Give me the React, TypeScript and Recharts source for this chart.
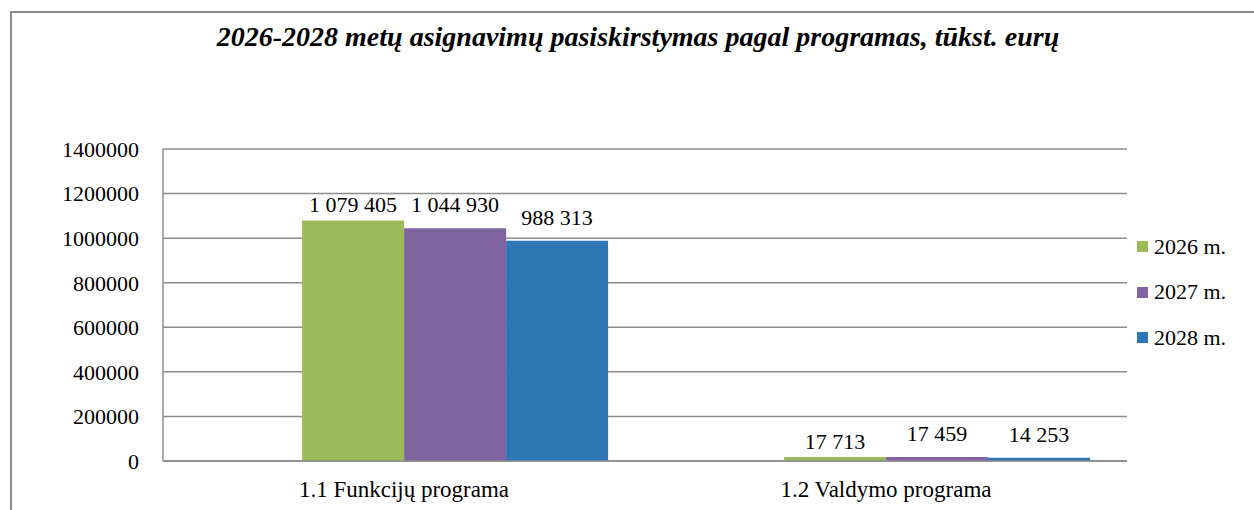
import React from "react";
import { BarChart, Bar, XAxis, YAxis, CartesianGrid, Legend, LabelList } from "recharts";

const categories = ["1.1 Funkcijų programa", "1.2 Valdymo programa"];
const values2026 = [1079405, 17713];
const values2027 = [1044930, 17459];
const values2028 = [988313, 14253];
const yTicks = [0, 200000, 400000, 600000, 800000, 1000000, 1200000, 1400000];

const series = [
  { key: "y2026", name: "2026 m.", color: "#9BBB59", offset: 8 },
  { key: "y2027", name: "2027 m.", color: "#8064A2", offset: 16 },
  { key: "y2028", name: "2028 m.", color: "#2E75B6", offset: 16 },
];

const data = categories.map((c, i) => ({
  name: c,
  y2026: values2026[i],
  y2027: values2027[i],
  y2028: values2028[i],
}));

const FONT =
  "'Times New Roman', Times, 'Liberation Serif', 'Noto Serif', 'DejaVu Serif', serif";
const GRID = "#8c8c8c";

const fmt = (v: any) => String(v).replace(/\B(?=(\d{3})+(?!\d))/g, " ");

function LegendBox() {
  return (
    <div style={{ fontFamily: FONT, fontSize: 22, color: "#000" }}>
      {series.map((s) => (
        <div key={s.key} style={{ display: "flex", alignItems: "center", height: 45.5 }}>
          <span style={{ width: 11, height: 11, background: s.color, marginRight: 6, display: "inline-block" }} />
          <span>{s.name}</span>
        </div>
      ))}
    </div>
  );
}

export default function App() {
  return (
    <div style={{ position: "fixed", left: 0, top: 0, width: 1254, height: 510, overflow: "hidden", background: "#fff" }}>
      <style>{`body{margin:0;overflow:hidden}`}</style>
      <div
        style={{
          position: "absolute",
          left: 10,
          top: 11,
          width: 1300,
          height: 600,
          borderLeft: "2px solid #8c8c8c",
          borderTop: "2px solid #8c8c8c",
        }}
      />
      <div
        style={{
          position: "absolute",
          left: 0,
          width: 1276,
          top: 21,
          textAlign: "center",
          fontFamily: FONT,
          fontSize: 28,
          fontWeight: "bold",
          fontStyle: "italic",
          color: "#000",
        }}
      >
        2026-2028 metų asignavimų pasiskirstymas pagal programas, tūkst. eurų
      </div>
      <div style={{ position: "absolute", left: 0, top: 0 }}>
        <BarChart
          width={1254}
          height={510}
          data={data}
          margin={{ top: 149, right: 10, bottom: 0, left: 0 }}
          barCategoryGap="7.7%"
          barGap={0}
        >
          <CartesianGrid vertical={false} stroke={GRID} strokeWidth={1.5} />
          <XAxis
            dataKey="name"
            height={49}
            tickLine={false}
            axisLine={{ stroke: GRID, strokeWidth: 1.5 }}
            tick={{ fontFamily: FONT, fontSize: 23, fill: "#000" }}
            tickMargin={14}
          />
          <YAxis
            width={163}
            domain={[0, 1400000]}
            ticks={yTicks}
            interval={0}
            tickLine={false}
            axisLine={{ stroke: GRID, strokeWidth: 1.5 }}
            tick={{ fontFamily: FONT, fontSize: 22, fill: "#000" }}
            tickMargin={18}
          />
          <Legend
            layout="vertical"
            verticalAlign="top"
            align="right"
            content={() => <LegendBox />}
            wrapperStyle={{ position: "absolute", left: 1137, top: 224, width: 117 }}
          />
          <Bar dataKey="empty" legendType="none" fill="none" isAnimationActive={false} />
          {series.map((s) => (
            <Bar key={s.key} dataKey={s.key} name={s.name} fill={s.color} isAnimationActive={false}>
              <LabelList
                dataKey={s.key}
                position="top"
                offset={s.offset}
                formatter={fmt}
                style={{ fontFamily: FONT, fontSize: 22, fill: "#000" }}
              />
            </Bar>
          ))}
        </BarChart>
      </div>
    </div>
  );
}
